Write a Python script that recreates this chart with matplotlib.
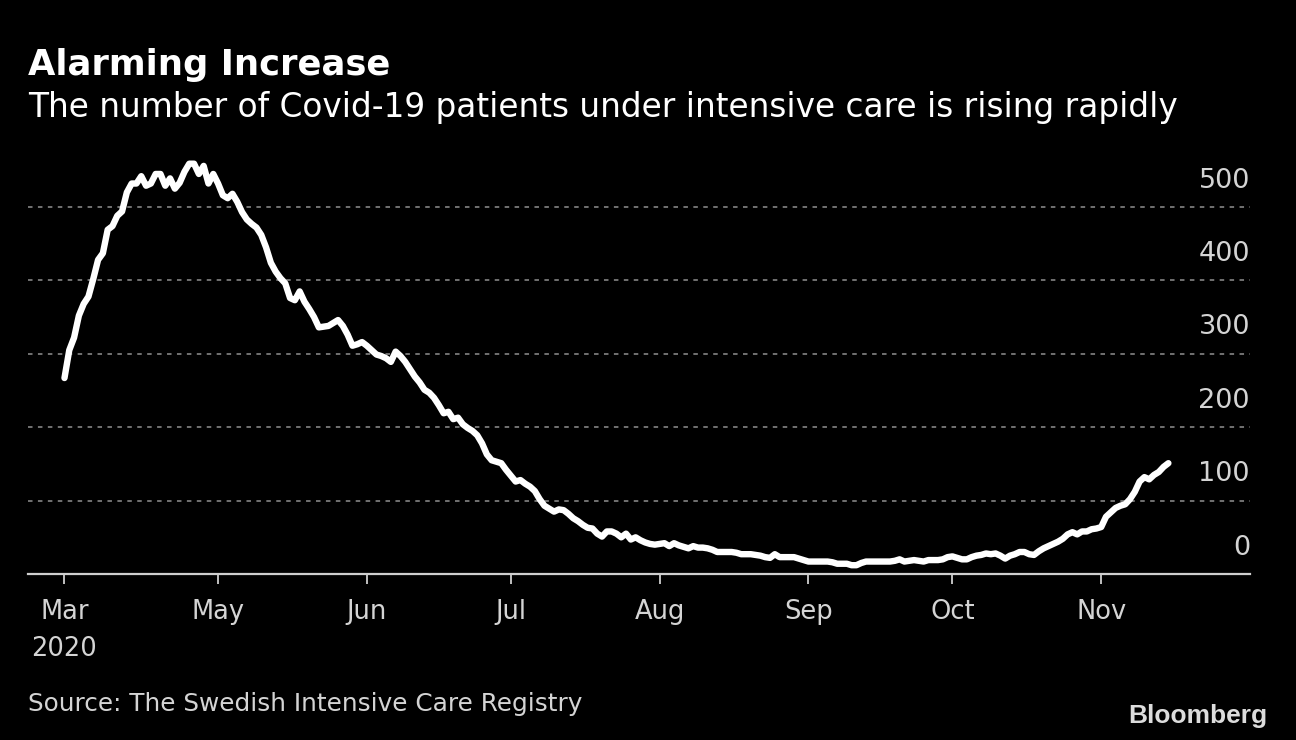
import pandas as pd
import numpy as np
import matplotlib
matplotlib.use("Agg")
from matplotlib import pyplot as plt
import matplotlib.dates as mdates
import matplotlib.transforms as mtrans

# ICU patients, daily, starting 2020-03-30
start_date = "2020-03-30"
patients = [
    267, 305, 322, 352, 368, 378, 402, 428, 437, 469, 474, 488, 494, 520, 532, 532,
    542, 529, 532, 545, 545, 529, 539, 525, 533, 548, 559, 559, 545, 556, 532, 545,
    532, 516, 512, 518, 507, 493, 483, 477, 472, 462,
    445, 424, 412, 403, 396, 376, 373, 385, 371, 361,
    350, 336, 337, 338, 342, 346, 338, 326, 311, 313,
    316, 311, 305, 299, 297, 294, 289, 303, 297, 289,
    279, 269, 261, 251, 247, 240, 230, 219, 221, 211,
    213, 204, 199, 195, 189, 178, 163, 155, 153, 151,
    142, 134, 126, 128, 123, 119, 113, 102, 93, 89,
    85, 88, 87, 82, 76, 72, 67, 63, 62, 55,
    51, 58, 58, 55, 50, 55, 47, 50, 46, 43,
    41, 40, 41, 42, 38, 42, 39, 37, 35, 38,
    36, 36, 35, 33, 30, 30, 30, 30, 29, 27,
    27, 27, 26, 25, 23, 22, 27, 23, 23, 23,
    23, 21, 19, 17, 17, 17, 17, 17, 16, 14,
    14, 14, 12, 12, 15, 17, 17, 17, 17, 17,
    17, 18, 20, 17, 18, 19, 18, 17, 19, 19,
    19, 20, 23, 24, 22, 20, 20, 23, 25, 26,
    28, 27, 28, 25, 21, 25, 27, 30, 30, 27,
    26, 31, 35, 38, 41, 44, 48, 54, 57, 54,
    58, 58, 61, 62, 64, 78, 84, 90, 93, 95,
    102, 112, 126, 132, 129, 135, 139, 146, 151,
]
dates = pd.date_range(start_date, periods=len(patients), freq="D")

tick_dates = ["2020-03-30", "2020-05-01", "2020-06-01", "2020-07-01",
              "2020-08-01", "2020-09-01", "2020-10-01", "2020-11-01"]
tick_labels = ["Mar\n2020", "May", "Jun", "Jul", "Aug", "Sep", "Oct", "Nov"]
y_ticks = [0, 100, 200, 300, 400, 500]

title = "Alarming Increase"
subtitle = "The number of Covid-19 patients under intensive care is rising rapidly"
source = "Source: The Swedish Intensive Care Registry"

plt.rcParams['font.family'] = ['DejaVu Sans']
label_grey = "#d4d4d4"

fig = plt.figure(figsize=(12.96, 7.4), dpi=100, facecolor="black")
ax = fig.add_axes([0.0216, 0.2243, 0.9429, 0.5654], facecolor="black")

# gridlines
for v in y_ticks[1:]:
    ax.axhline(v, color="#7a7a7a", lw=1.3, ls=(0, (2.5, 3)), zorder=1)

ax.plot(dates, patients, color="white", lw=4.6, solid_capstyle="round",
        solid_joinstyle="round", zorder=3)

ax.set_ylim(0, 570)
x0 = mdates.date2num(pd.Timestamp("2020-05-01"))
ax.set_xlim(x0 - 39.6, x0 + 215)

for s in ["top", "right", "left"]:
    ax.spines[s].set_visible(False)
ax.spines["bottom"].set_color("#cfcfcf")
ax.spines["bottom"].set_linewidth(1.6)

ax.set_xticks(pd.to_datetime(tick_dates))
ax.set_xticklabels(tick_labels, fontsize=18.5, color=label_grey, linespacing=1.55)
ax.tick_params(axis="x", length=7, width=1.3, color="#cfcfcf", pad=11)
ax.set_yticks([])

# y labels sit above their gridlines
trans = mtrans.blended_transform_factory(ax.transAxes, ax.transData)
for v in y_ticks:
    ax.annotate(str(v), xy=(1.0, v), xycoords=trans, xytext=(0, 14),
                textcoords="offset points", ha="right", va="baseline",
                fontsize=19.5, color=label_grey)

fig.text(0.0216, 0.8986, title, fontsize=25.5, fontweight="bold", color="white",
         va="baseline", ha="left")
fig.text(0.0216, 0.8419, subtitle, fontsize=23.6, color="white",
         va="baseline", ha="left")
fig.text(0.0216, 0.039, source, fontsize=17.8, color=label_grey,
         va="baseline", ha="left")
fig.text(0.978, 0.023, "Bloomberg", fontsize=19, fontweight="bold",
         family="Liberation Sans", color="#dcdcdc", va="baseline", ha="right")

plt.savefig("out.png", dpi=100, facecolor="black")
